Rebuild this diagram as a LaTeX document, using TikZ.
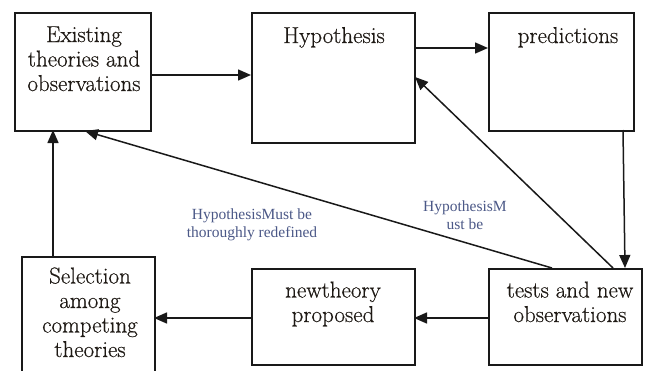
\documentclass[tikz,border=0pt]{standalone}
\usepackage{fontspec}
\newfontfamily\labfont{Liberation Serif}
\newfontfamily\boxfont{Latin Modern Roman}[FakeBold=0.5]
\usetikzlibrary{arrows.meta}
\definecolor{labcol}{RGB}{75,88,135}
\definecolor{linecol}{RGB}{25,25,25}
\definecolor{textcol}{RGB}{30,25,20}
\tikzset{
  box/.style={draw=linecol, line width=1.5pt, rectangle, inner sep=0pt, anchor=north west},
  boxtext/.style={font=\boxfont\fontsize{23}{24.5}\selectfont, text=textcol, align=center, inner sep=0pt, anchor=base},
  lab/.style={font=\labfont\fontsize{15.5}{18}\selectfont, text=labcol, align=center, inner sep=0pt, anchor=base},
  arr/.style={draw=linecol, line width=1.5pt, -{Triangle[length=13pt,width=11pt]}}
}
\begin{document}
\begin{tikzpicture}[x=1pt,y=-1pt]
\useasboundingbox (0,0) rectangle (645,370);
\clip (0,0) rectangle (645,370);
\fill[white] (0,0) rectangle (645,370);
% boxes
\node[box, minimum width=136pt, minimum height=118pt] (exist) at (14,12) {};
\node[box, minimum width=163pt, minimum height=130pt] (hyp) at (251,12) {};
\node[box, minimum width=145pt, minimum height=118pt] (pred) at (488,12) {};
\node[box, minimum width=153pt, minimum height=96pt] (tests) at (488,268) {};
\node[box, minimum width=163pt, minimum height=96pt] (newth) at (251,268) {};
\node[box, minimum width=133pt, minimum height=130pt] (sel) at (21,256) {};
% texts (anchor base = last line's baseline)
\node[boxtext] (t1) at (84,91) {Existing\\theories and\\observations};
\node[boxtext] (t2) at (334,43) {Hypothesis};
\node[boxtext] (t3) at (568,43) {predictions};
\node[boxtext] (t4) at (570,322) {tests and new\\observations};
\node[boxtext] (t5) at (333,322) {newtheory\\proposed};
\node[boxtext] (t6) at (90,357) {Selection\\among\\competing\\theories};
% labels
\node[lab] (l1) at (252,237) {HypothesisMust be\\thoroughly redefined};
\node[lab] (l2) at (465,229) {HypothesisM\\ust be};
% connectors
\coordinate (a1s) at (150,75); \coordinate (a1e) at (251,75);
\draw[arr] (a1s) -- (a1e);
\coordinate (a2s) at (414,48); \coordinate (a2e) at (488,48);
\draw[arr] (a2s) -- (a2e);
\coordinate (a3s) at (623,130); \coordinate (a3e) at (625,268);
\draw[arr] (a3s) -- (a3e);
\coordinate (a4s) at (488,318); \coordinate (a4e) at (414,318);
\draw[arr] (a4s) -- (a4e);
\coordinate (a5s) at (251,318); \coordinate (a5e) at (154,318);
\draw[arr] (a5s) -- (a5e);
\coordinate (a6s) at (53,256); \coordinate (a6e) at (53,130);
\draw[arr] (a6s) -- (a6e);
\coordinate (a7s) at (552,268); \coordinate (a7e) at (85,131);
\draw[arr] (a7s) -- (a7e);
\coordinate (a8s) at (613,268); \coordinate (a8e) at (415,77);
\draw[arr] (a8s) -- (a8e);
\end{tikzpicture}
\end{document}
